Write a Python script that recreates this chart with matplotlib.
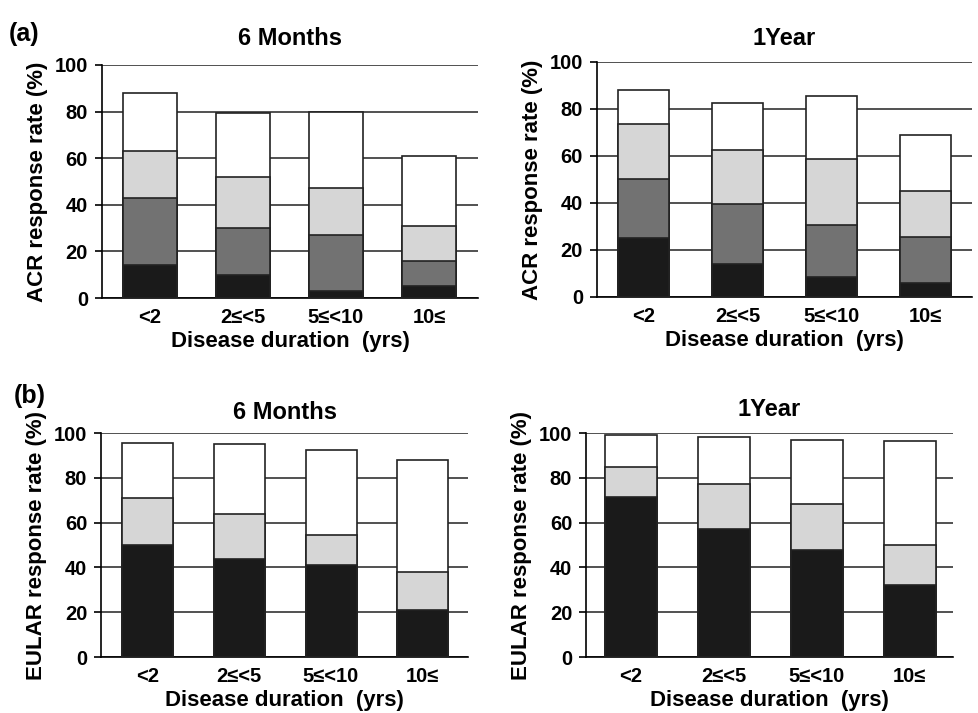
import matplotlib
matplotlib.use("Agg")
import matplotlib.pyplot as plt
import numpy as np

plt.rcParams['font.family'] = ['Liberation Sans', 'DejaVu Sans']

categories = ["<2", "2≤<5", "5≤<10", "10≤"]

# Cumulative boundaries (top of each segment)
acr_6m_black = [14, 10, 3, 5]
acr_6m_dark = [43, 30, 27, 16]
acr_6m_light = [63, 52, 47, 31]
acr_6m_white = [88, 79.5, 80, 61]

acr_1y_black = [25, 14, 8.5, 6]
acr_1y_dark = [50, 39.5, 30.5, 25.5]
acr_1y_light = [73.5, 62.5, 58.5, 45]
acr_1y_white = [88, 82.5, 85.5, 69]

eular_6m_black = [50, 44, 41, 21]
eular_6m_light = [71, 64, 54.5, 38]
eular_6m_white = [95.5, 95, 92.5, 88]

eular_1y_black = [71.5, 57, 48, 32]
eular_1y_light = [85, 77.5, 68.5, 50]
eular_1y_white = [99, 98.5, 97, 96.5]

yticks = [0, 20, 40, 60, 80, 100]

C_BLACK = "#1a1a1a"
C_DARK = "#727272"
C_LIGHT = "#d6d6d6"
C_WHITE = "#ffffff"

fig = plt.figure(figsize=(9.79, 7.13), dpi=100)

panels = [
    ([0.1042, 0.582, 0.384, 0.327], "6 Months", "ACR response rate (%)",
     [(acr_6m_white, C_WHITE), (acr_6m_light, C_LIGHT), (acr_6m_dark, C_DARK), (acr_6m_black, C_BLACK)],
     (-0.516, 3.527), 0.58, 14),
    ([0.6098, 0.5835, 0.383, 0.3296], "1Year", "ACR response rate (%)",
     [(acr_1y_white, C_WHITE), (acr_1y_light, C_LIGHT), (acr_1y_dark, C_DARK), (acr_1y_black, C_BLACK)],
     (-0.495, 3.495), 0.55, 12),
    ([0.1032, 0.0785, 0.375, 0.314], "6 Months", "EULAR response rate (%)",
     [(eular_6m_white, C_WHITE), (eular_6m_light, C_LIGHT), (eular_6m_black, C_BLACK)],
     (-0.507, 3.495), 0.556, 10),
    ([0.5986, 0.0785, 0.375, 0.314], "1Year", "EULAR response rate (%)",
     [(eular_1y_white, C_WHITE), (eular_1y_light, C_LIGHT), (eular_1y_black, C_BLACK)],
     (-0.485, 3.47), 0.56, 12),
]

for rect, title, ylabel, layers, xlim, width, tpad in panels:
    ax = fig.add_axes(rect)
    x = np.arange(len(categories))
    for tops, color in layers:
        ax.bar(x, tops, width=width, color=color, edgecolor="#222222",
               linewidth=1.2, zorder=3)
    ax.set_xlim(*xlim)
    ax.set_ylim(0, 100)
    ax.set_yticks(yticks)
    ax.set_yticklabels([str(t) for t in yticks], fontsize=14.5, fontweight="bold")
    ax.set_xticks(x)
    ax.set_xticklabels(categories, fontsize=14.5, fontweight="bold")
    ax.tick_params(axis="x", length=0, pad=7)
    ax.tick_params(axis="y", length=5, width=1.2, direction="out", pad=5)
    ax.yaxis.grid(True, color="#333333", linewidth=1.2, zorder=0)
    ax.set_axisbelow(True)
    for s in ["top", "right"]:
        ax.spines[s].set_visible(False)
    ax.spines["left"].set_linewidth(1.2)
    ax.spines["bottom"].set_linewidth(1.2)
    ax.set_title(title, fontsize=17, fontweight="bold", pad=tpad)
    ax.set_ylabel(ylabel, fontsize=16, fontweight="bold", labelpad=5)
    ax.set_xlabel("Disease duration  (yrs)", fontsize=16, fontweight="bold", labelpad=3)

fig.text(0.009, 0.943, "(a)", fontsize=18, fontweight="bold")
fig.text(0.014, 0.435, "(b)", fontsize=18, fontweight="bold")

fig.savefig("out.png", dpi=100, facecolor="white")
